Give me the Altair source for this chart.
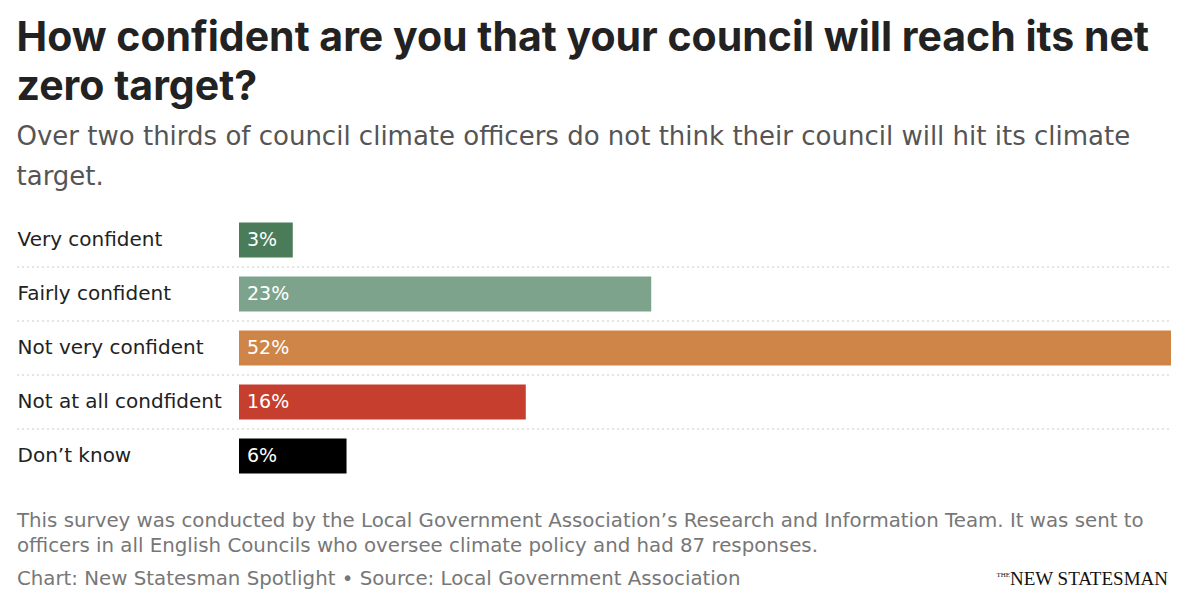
import altair as alt
import pandas as pd

categories = ["Very confident", "Fairly confident", "Not very confident", "Not at all condfident", "Don\u2019t know"]
values = [3, 23, 52, 16, 6]
colors = ["#4a7c59", "#7ea38c", "#d08548", "#c53e2e", "#000000"]

title_lines = ["How confident are you that your council will reach its net", "zero target?"]
subtitle_lines = ["Over two thirds of council climate officers do not think their council will hit its climate", "target."]
note_lines = [
    "This survey was conducted by the Local Government Association\u2019s Research and Information Team. It was sent to",
    "officers in all English Councils who oversee climate policy and had 87 responses.",
]
source_line = "Chart: New Statesman Spotlight \u2022 Source: Local Government Association"
logo_text = "NEW STATESMAN"

df = pd.DataFrame({"cat": categories, "val": values, "color": colors,
                   "label": [f"{v}%" for v in values]})
sep_df = pd.DataFrame({"cat": categories[:-1]})

FONT = "Inter"
BODY = "DejaVu Sans"
W = 932
H = 270

y_enc = alt.Y("cat:N", sort=categories,
              scale=alt.Scale(paddingInner=19 / 54, paddingOuter=19 / 108),
              axis=alt.Axis(title=None, ticks=False, domain=False, grid=False, labelAlign="left",
                            labelPadding=222, labelFontSize=20, labelColor="#222222",
                            labelFont=BODY, labelLimit=300))

bars = alt.Chart(df).mark_bar().encode(
    x=alt.X("val:Q", scale=alt.Scale(domain=[0, 52], nice=False), axis=None),
    y=y_enc,
    color=alt.Color("color:N", scale=None),
)

labels = alt.Chart(df).mark_text(align="left", baseline="middle", dx=8, color="white",
                                 fontSize=19, fontWeight=500, font=BODY).encode(
    x=alt.datum(0),
    y=alt.Y("cat:N", sort=categories),
    text="label:N",
)

seps = alt.Chart(sep_df).mark_rule(yOffset=27, color="#cccccc", strokeDash=[2, 3], strokeWidth=1).encode(
    y=alt.Y("cat:N", sort=categories),
    x=alt.value(-222),
    x2=alt.value(W),
)


def foot(text, ypos):
    return alt.Chart(pd.DataFrame({"t": [text]})).mark_text(
        align="left", baseline="alphabetic", fontSize=19.8, color="#777777", font=BODY
    ).encode(x=alt.value(-222), y=alt.value(ypos), text="t:N")


note1 = foot(note_lines[0], 313.5)
note2 = foot(note_lines[1], 338.5)
source = foot(source_line, 371.5)

logo = alt.Chart(pd.DataFrame({"t": [logo_text]})).mark_text(
    align="right", baseline="alphabetic", fontSize=19, font="Liberation Serif",
    color="#111111").encode(
    x=alt.value(929), y=alt.value(371.5), text="t:N")

logo_the = alt.Chart(pd.DataFrame({"t": ["THE"]})).mark_text(
    align="right", baseline="alphabetic", fontSize=7, font="Liberation Serif",
    color="#111111").encode(
    x=alt.value(929 - 158), y=alt.value(364), text="t:N")

chart = alt.layer(bars, labels, seps, note1, note2, source, logo, logo_the).properties(
    width=W, height=H,
    padding={"left": 8, "top": 10, "right": 8, "bottom": 0},
    background="white",
    title=alt.TitleParams(
        text=title_lines, subtitle=subtitle_lines, anchor="start", frame="bounds",
        font=FONT, fontSize=41, fontWeight=700, color="#222222", lineHeight=49,
        subtitleFont=BODY, subtitleFontSize=26, subtitleColor="#555555",
        subtitleLineHeight=40, subtitlePadding=15, offset=22,
    ),
).configure_view(strokeWidth=0, stroke=None)

chart.save("out.html", embed_options={"renderer": "svg", "actions": False})
